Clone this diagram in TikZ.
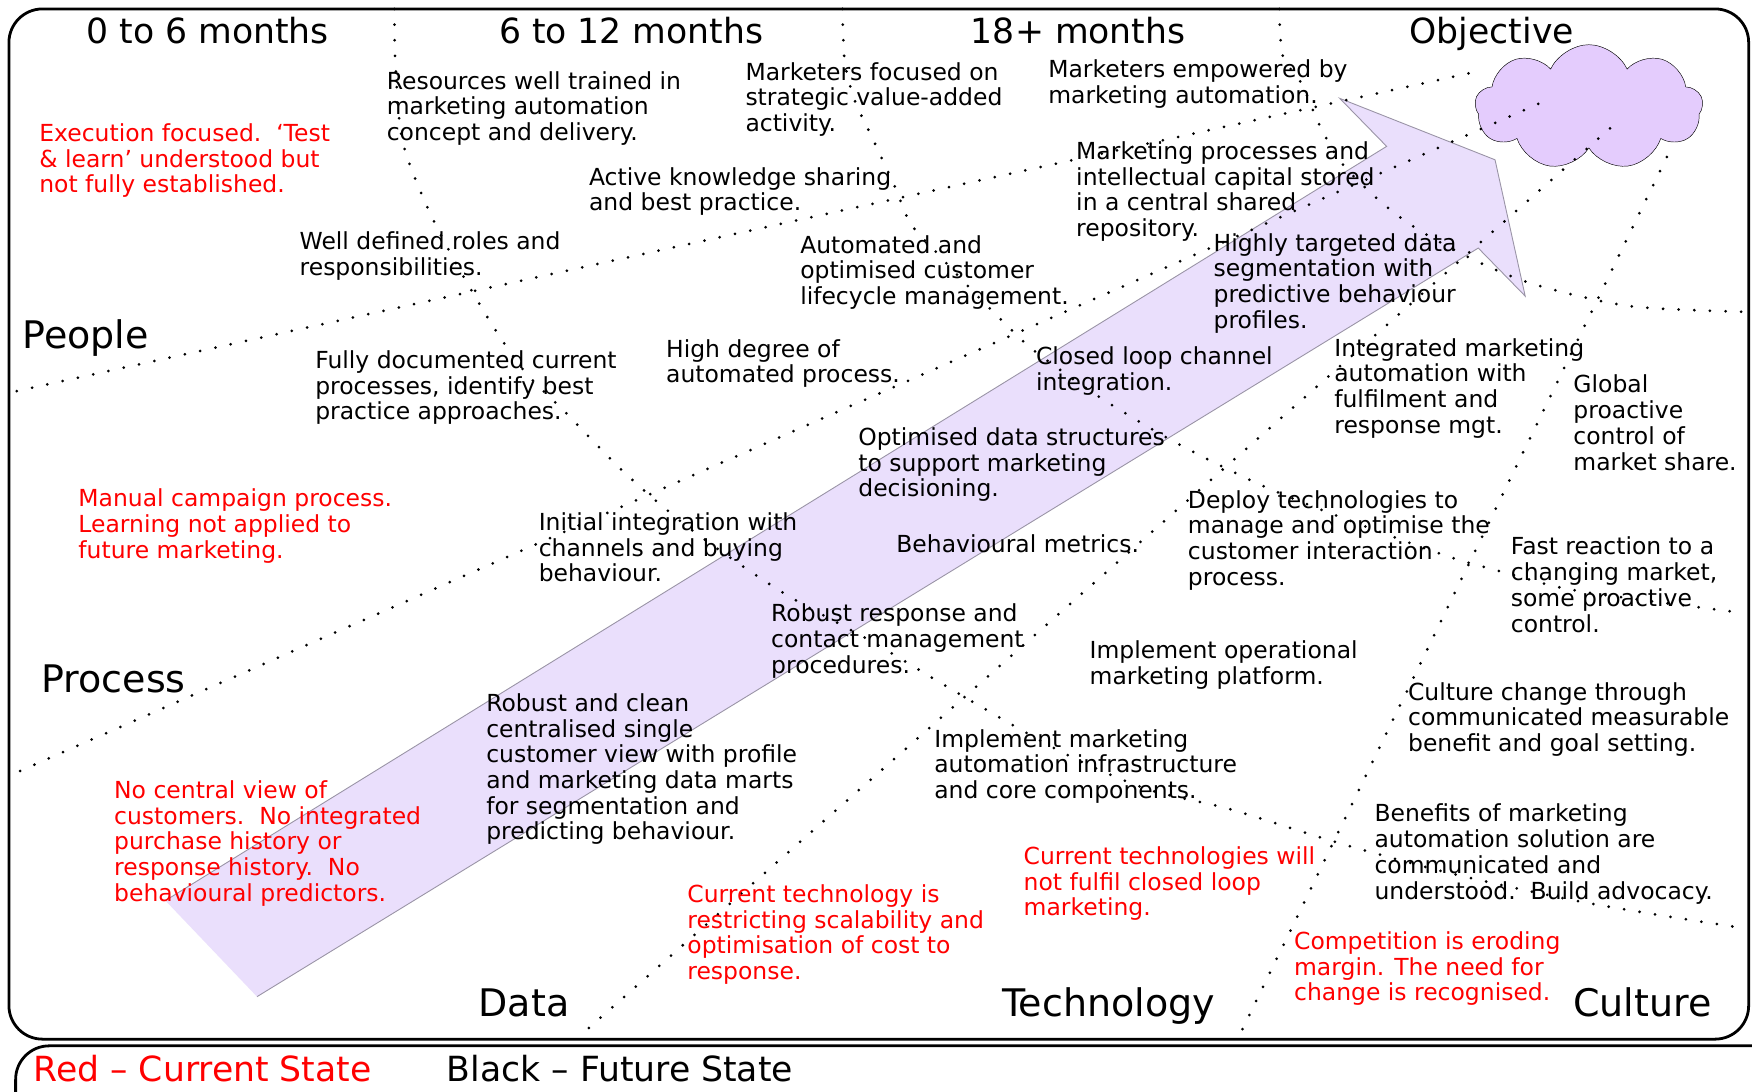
\documentclass[tikz,border=0pt]{standalone}
\usepackage{fontspec}
\setmainfont{DejaVu Sans}
\usetikzlibrary{shapes.symbols, positioning}

\definecolor{arrowfill}{HTML}{EADFFC}
\definecolor{arrowedge}{HTML}{9A94A6}
\definecolor{cloudfill}{HTML}{E4CCFD}

\begin{document}
\begin{tikzpicture}[
    x=1pt, y=-1pt,
    future/.style={anchor=north west, inner sep=0pt, align=left, font=\fontsize{21}{23}\selectfont},
    current/.style={future, text=red},
    header/.style={anchor=base, inner sep=0pt, font=\fontsize{31}{36}\selectfont},
    category/.style={anchor=base west, inner sep=0pt, font=\fontsize{34}{40}\selectfont},
    legend/.style={anchor=base west, inner sep=0pt, font=\fontsize{31}{36}\selectfont},
    divider/.style={line width=2.7pt, line cap=round, dash pattern=on 0pt off 14pt},
    frame/.style={line width=2.5pt, rounded corners=30pt}
]
\clip (0,0) rectangle (1568,977);

% Frames
\draw[frame] (8,8) rectangle (1565,930);
\draw[frame] (14,936) rectangle (1600,1020);

% Big arrow
\fill[arrowfill] (148,806) -- (1241,131) -- (1199,88) -- (1338,143) -- (1365,265) -- (1323,222) -- (230,892) -- cycle;
\draw[arrowedge, line width=0.8pt] (148,806) -- (1241,131) -- (1199,88) -- (1338,143) -- (1365,265) -- (1323,222) -- (230,892);

% Objective cloud
\node[cloud, draw, fill=cloudfill, cloud puffs=9, cloud puff arc=130, aspect=1.7,
      minimum width=204, minimum height=112, inner sep=0pt] (goal) at (1422,96) {};

% Dividers towards the objective
\draw[divider] (15,350) -- (1322,64);
\draw[divider] (18,690) -- (1388,88);
\draw[divider] (527,920) -- (1443,113);
\draw[divider] (1112,921) -- (1492,140);

% Time band dividers
\draw[divider] plot[smooth, tension=0.5] coordinates {(353,8) (354,60) (360,125) (380,180) (405,230) (440,290) (470,333) (505,368) (560,424) (620,475) (700,530) (780,574) (860,622) (950,673) (1026,706) (1100,724) (1200,755) (1300,782) (1420,808) (1556,830)};
\draw[divider] plot[smooth, tension=0.5] coordinates {(754,8) (756,55) (765,90) (780,122) (800,165) (815,200) (840,228) (870,260) (900,290) (927,315) (985,356) (1052,396) (1124,432) (1182,456) (1290,496) (1349,513) (1413,529) (1556,548)};
\draw[divider] plot[smooth, tension=0.5] coordinates {(1145,8) (1148,50) (1165,75) (1180,110) (1200,145) (1235,180) (1270,206) (1322,234) (1375,255) (1459,274) (1560,279)};

% Headers
\node[header] (h0) at (186,39) {0 to 6 months};
\node[header] (h6) at (565,39) {6 to 12 months};
\node[header] (h18) at (965,39) {18+ months};
\node[header] (hobj) at (1335,39) {Objective};

% Categories
\node[category] (people) at (20,312) {People};
\node[category] (process) at (37,620) {Process};
\node[category, anchor=base] (data) at (469,910) {Data};
\node[category, anchor=base] (tech) at (992,910) {Technology};
\node[category, anchor=base] (culture) at (1470,910) {Culture};

% Current state
\node[current] (exec) at (35,110.5) {Execution focused.~~‘Test\\\& learn’ understood but\\not fully established.};
\node[current] (manual) at (70,437.5) {Manual campaign process.\\Learning not applied to\\future marketing.};
\node[current] (noview) at (102,698.5) {No central view of\\customers.~~No integrated\\purchase history or\\response history.~~No\\behavioural predictors.};
\node[current] (curtech) at (615,791.5) {Current technology is\\restricting scalability and\\optimisation of cost to\\response.};
\node[current] (curtechs) at (916,757.5) {Current technologies will\\not fulfil closed loop\\marketing.};
\node[current] (compet) at (1158,833.5) {Competition is eroding\\margin. The need for\\change is recognised.};

% Future state
\node[future] (trained) at (346,63.5) {Resources well trained in\\marketing automation\\concept and delivery.};
\node[future] (focused) at (667,55.5) {Marketers focused on\\strategic value-added\\activity.};
\node[future] (empowered) at (938,53.5) {Marketers empowered by\\marketing automation.};
\node[future] (sharing) at (527,149.5) {Active knowledge sharing\\and best practice.};
\node[future] (roles) at (268,207.5) {Well defined roles and\\responsibilities.};
\node[future] (repo) at (963,126.5) {Marketing processes and\\intellectual capital stored\\in a central shared\\repository.};
\node[future] (lifecycle) at (716,210.5) {Automated and\\optimised customer\\lifecycle management.};
\node[future] (targeted) at (1086,208.5) {Highly targeted data\\segmentation with\\predictive behaviour\\profiles.};
\node[future] (documented) at (282,313.5) {Fully documented current\\processes, identify best\\practice approaches.};
\node[future] (automated) at (596,303.5) {High degree of\\automated process.};
\node[future] (closedloop) at (927,310.5) {Closed loop channel\\integration.};
\node[future] (fulfil) at (1194,302.5) {Integrated marketing\\automation with\\fulfilment and\\response mgt.};
\node[future] (global) at (1408,335.5) {Global\\proactive\\control of\\market share.};
\node[future] (structures) at (768,382.5) {Optimised data structures\\to support marketing\\decisioning.};
\node[future] (deploy) at (1063,438.5) {Deploy technologies to\\manage and optimise the\\customer interaction\\process.};
\node[future] (initial) at (482,458.5) {Initial integration with\\channels and buying\\behaviour.};
\node[future] (metrics) at (802,478.5) {Behavioural metrics.};
\node[future] (fastreact) at (1352,480.5) {Fast reaction to a\\changing market,\\some proactive\\control.};
\node[future] (response) at (690,540.5) {Robust response and\\contact management\\procedures.};
\node[future] (operational) at (975,573.5) {Implement operational\\marketing platform.};
\node[future] (culturechg) at (1260,610.5) {Culture change through\\communicated measurable\\benefit and goal setting.};
\node[future] (singleview) at (435,620.5) {Robust and clean\\centralised single\\customer view with profile\\and marketing data marts\\for segmentation and\\predicting behaviour.};
\node[future] (infra) at (836,652.5) {Implement marketing\\automation infrastructure\\and core components.};
\node[future] (benefits) at (1230,719.5) {Benefits of marketing\\automation solution are\\communicated and\\understood.~~Build advocacy.};

% Legend
\node[legend, text=red] (redkey) at (30,968) {Red – Current State};
\node[legend, right=67pt of redkey.base east, anchor=base west] (blackkey) {Black – Future State};

\end{tikzpicture}
\end{document}
